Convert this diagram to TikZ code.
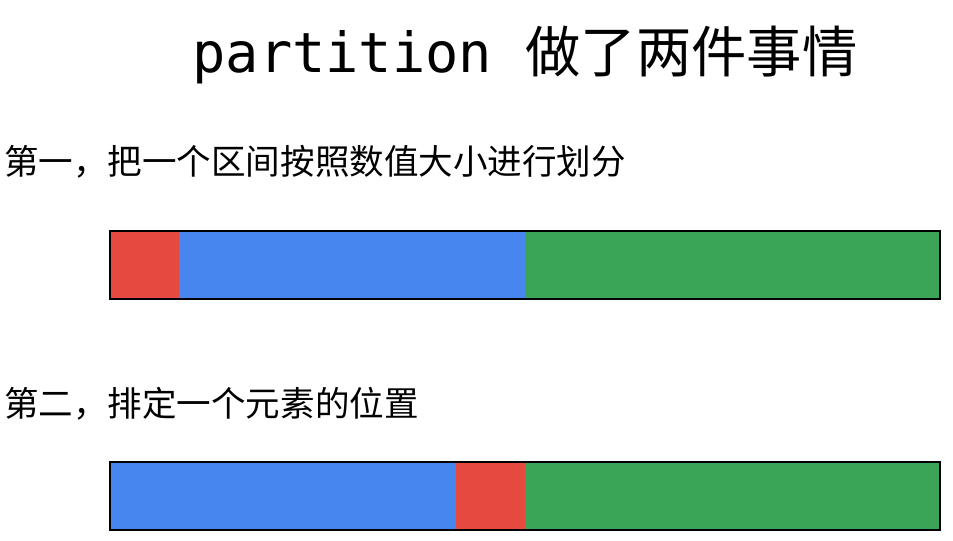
\documentclass[tikz,border=0pt]{standalone}
\usepackage{fontspec}
\setmonofont{DejaVu Sans Mono}
\newfontfamily\cjk{Noto Sans CJK SC}
\definecolor{cred}{HTML}{E64A3F}
\definecolor{cblue}{HTML}{4686EE}
\definecolor{cgreen}{HTML}{3BA557}
\begin{document}
\begin{tikzpicture}[x=0.75pt,y=-0.75pt,
  seg/.style={line width=0pt},
  frame/.style={draw=black,line width=1.5pt},
  lbl/.style={inner sep=0pt,anchor=west,font=\cjk\fontsize{25.9}{30}\selectfont}]
\useasboundingbox (0,0) rectangle (953,540);
\node[inner sep=0pt] (title) at (525,55) {\fontsize{41.5}{48}\selectfont\ttfamily partition {\cjk 做了两件事情}};
\node[lbl] (l1) at (4,162) {第一，把一个区间按照数值大小进行划分};
\node[lbl] (l2) at (4,404) {第二，排定一个元素的位置};
% bar 1
\fill[cred] (110,231) rectangle (179,299);
\fill[cblue] (179,231) rectangle (525,299);
\fill[cgreen] (525,231) rectangle (940,299);
\node[frame,minimum width=830*0.75pt,minimum height=68*0.75pt,inner sep=0pt] (bar1) at (525,265) {};
% bar 2
\fill[cblue] (110,462) rectangle (456,530);
\fill[cred] (456,462) rectangle (525,530);
\fill[cgreen] (525,462) rectangle (940,530);
\node[frame,minimum width=830*0.75pt,minimum height=68*0.75pt,inner sep=0pt] (bar2) at (525,496) {};
\end{tikzpicture}
\end{document}
